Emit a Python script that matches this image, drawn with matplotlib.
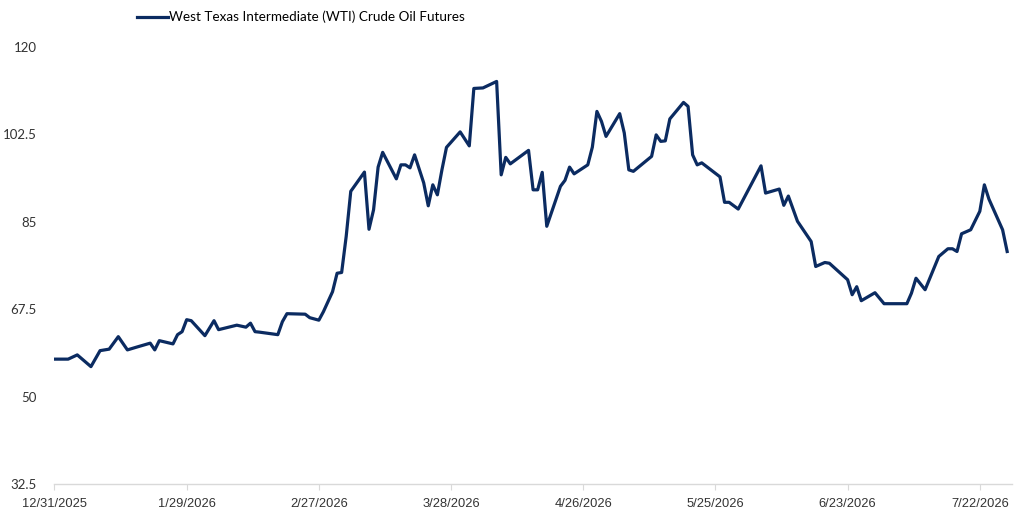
import pandas as pd
import matplotlib
matplotlib.use("Agg")
import matplotlib.pyplot as plt

# days after 12/31/2025
days = [0, 3, 5, 8, 10, 12, 14, 16, 18, 21, 22, 23, 26, 27, 28, 29, 30, 33, 35, 36,
        40, 42, 43, 44, 45, 49, 50, 51, 55, 56, 58, 59, 61, 62, 63, 64, 65, 68, 69, 70,
        71, 72, 75, 76, 77, 78, 79, 81, 82, 83, 84, 85, 86, 89, 91, 92, 94, 97, 98, 99,
        100, 104, 105, 106, 107, 108, 111, 112, 113, 114, 117, 118, 119, 120, 121, 124,
        125, 126, 127, 131, 132, 133, 134, 135, 138, 139, 140, 141, 142, 146, 147, 148,
        150, 155, 156, 159, 160, 161, 163, 166, 167, 169, 170, 174, 175, 176, 177, 180,
        182, 187, 188, 189, 191, 194, 196, 197, 198, 199, 201, 203, 204, 205, 208, 209]
wti = [57.5, 57.5, 58.35, 56.0, 59.2, 59.5, 62.0, 59.35, 59.9, 60.7, 59.35, 61.2, 60.55,
       62.4, 63.0, 65.4, 65.2, 62.2, 65.2, 63.4,
       64.3, 63.9, 64.7, 63.0, 62.9, 62.4, 65.0, 66.6, 66.5, 65.8, 65.3, 67.0, 71.0, 74.7,
       74.85, 82.1, 91.1, 94.95, 83.5, 87.4,
       95.95, 98.9, 93.6, 96.4, 96.4, 95.8, 98.4, 92.8, 88.2, 92.4, 90.4, 95.4, 99.9,
       103.0, 100.2, 111.7, 111.8, 113.1, 94.4, 97.9,
       96.6, 99.3, 91.4, 91.4, 94.9, 84.1, 92.1, 93.3, 95.95, 94.6, 96.4, 99.95, 107.1,
       105.1, 102.1, 106.65,
       102.8, 95.4, 95.1, 98.1, 102.4, 101.1, 101.2, 105.6, 108.9, 108.1, 98.4, 96.4,
       96.8, 94.0, 88.9, 88.9,
       87.55, 96.2, 90.75, 91.55, 88.3, 90.15, 85.1, 81.05, 76.05, 76.85, 76.7, 73.4,
       70.4, 72.0, 69.2, 70.8,
       68.6, 68.6, 70.7, 73.7, 71.4, 78.05, 79.6, 79.6, 79.05, 82.6, 83.4, 87.1, 92.4,
       89.55, 83.4, 79.05]

series_label = "West Texas Intermediate (WTI) Crude Oil Futures"
start = pd.Timestamp("2025-12-31")
tick_dates = pd.date_range(start, periods=8, freq="29D")
y_ticks = [32.5, 50, 67.5, 85, 102.5, 120]

dates = start + pd.to_timedelta(days, unit="D")

fig = plt.figure(figsize=(10.24, 5.22), dpi=100)
ax = fig.add_axes([0.0532, 0.0728, 0.9348, 0.8372])

line, = ax.plot(dates, wti, color="#0b2b61", lw=2.3, solid_joinstyle="round",
                label=series_label)

ax.set_xlim(start, start + pd.Timedelta(days=210))
ax.set_ylim(32.5, 120)
ax.set_yticks(y_ticks)
ax.set_yticklabels([f"{v:g}" for v in y_ticks], family=["Lato", "DejaVu Sans"],
                   fontsize=9.5, color="#333333")
ax.set_xticks(tick_dates)
ax.set_xticklabels([f"{d.month}/{d.day}/{d.year}" for d in tick_dates],
                   family=["Liberation Sans", "DejaVu Sans"],
                   fontsize=9.3, color="#333333")

for s in ["top", "right", "left"]:
    ax.spines[s].set_visible(False)
ax.spines["bottom"].set_color("#d9d9d9")
ax.spines["bottom"].set_linewidth(1)
ax.tick_params(axis="y", length=0, pad=13)
ax.tick_params(axis="x", length=4, color="#d9d9d9", pad=6)

fig.legend(handles=[line], loc="center left", bbox_to_anchor=(0.122, 0.967),
           frameon=False, handlelength=2.3, handletextpad=0.1,
           prop={"family": "Lato", "size": 9.7})

fig.savefig("out.png", dpi=100)
